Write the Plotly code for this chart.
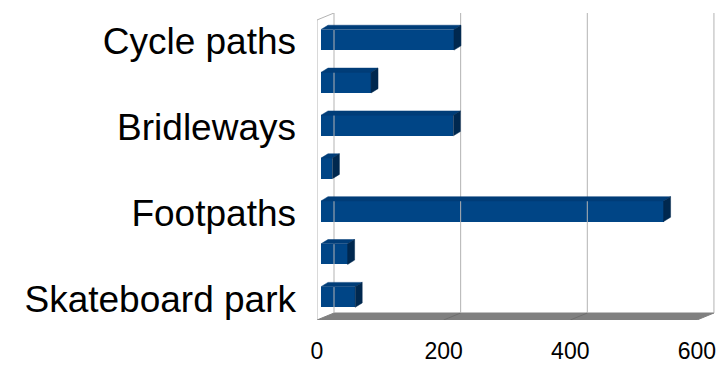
import plotly.graph_objects as go

# ---- data ----
categories = ["Skateboard park", "", "Footpaths", "", "Bridleways", "", "Cycle paths"]
values = [54, 42, 541, 18, 209, 79, 210]
x_ticks = [0, 200, 400, 600]

# ---- geometry / style ----
W, H = 716, 365
ML, MR, MT, MB = 317, 1, 13, 45
X_MAX = 628.5
Y_MIN, Y_MAX = -0.5, 6.663
pw, ph = W - ML - MR, H - MT - MB
ux = X_MAX / pw                     # data units per pixel (x)
uy = (Y_MAX - Y_MIN) / ph           # data units per pixel (y)

DX, DY = 17 * ux, 7 * uy            # chart depth
OX, OY = 4 * ux, 1.6 * uy           # bar front-face offset into depth
BDX, BDY = 7 * ux, 4.3 * uy         # bar depth
HALF = 0.24                          # half bar thickness

FRONT = "#004586"
TOP = "#003d78"
SIDE = "#00284f"
GRID = "#b3b3b3"
FLOOR = "#808080"

fig = go.Figure()

# floor
fig.add_trace(go.Scatter(
    x=[0, x_ticks[-1], x_ticks[-1] + DX, DX, 0],
    y=[Y_MIN, Y_MIN, Y_MIN + DY, Y_MIN + DY, Y_MIN],
    fill="toself", fillcolor=FLOOR, mode="lines",
    line=dict(color=FLOOR, width=1), hoverinfo="skip", showlegend=False))
# floor separators
for t in x_ticks[1:-1]:
    fig.add_trace(go.Scatter(x=[t, t + DX], y=[Y_MIN, Y_MIN + DY], mode="lines",
                             line=dict(color="#6e6e6e", width=1),
                             hoverinfo="skip", showlegend=False))

# left wall outline
fig.add_trace(go.Scatter(
    x=[0, 0, DX], y=[Y_MIN, 6.5, 6.5 + DY], mode="lines",
    line=dict(color=GRID, width=1), hoverinfo="skip", showlegend=False))

# back wall grid lines
for t in x_ticks:
    fig.add_trace(go.Scatter(x=[t + DX, t + DX], y=[Y_MIN + DY, 6.5 + DY], mode="lines",
                             line=dict(color=GRID, width=1),
                             hoverinfo="skip", showlegend=False))

# bar depth faces
for i, v in enumerate(values):
    yc = i + OY
    # top face
    fig.add_trace(go.Scatter(
        x=[OX, v + OX, v + OX + BDX, OX + BDX, OX],
        y=[yc + HALF, yc + HALF, yc + HALF + BDY, yc + HALF + BDY, yc + HALF],
        fill="toself", fillcolor=TOP, mode="lines", line=dict(color=TOP, width=0.5),
        hoverinfo="skip", showlegend=False))
    # side face
    fig.add_trace(go.Scatter(
        x=[v + OX, v + OX + BDX, v + OX + BDX, v + OX, v + OX],
        y=[yc - HALF, yc - HALF + BDY, yc + HALF + BDY, yc + HALF, yc - HALF],
        fill="toself", fillcolor=SIDE, mode="lines", line=dict(color=SIDE, width=0.5),
        hoverinfo="skip", showlegend=False))

# bar front faces
fig.add_trace(go.Bar(
    x=values, y=[i + OY for i in range(len(values))], base=OX,
    orientation="h", width=2 * HALF,
    marker=dict(color=FRONT, line=dict(width=0)), showlegend=False))

tickvals = [i for i, c in enumerate(categories) if c]
ticktext = [c for c in categories if c]

fig.update_layout(
    template="none",
    width=W, height=H,
    margin=dict(l=ML, r=MR, t=MT, b=MB, autoexpand=False),
    paper_bgcolor="white", plot_bgcolor="white",
    font=dict(family="Liberation Sans, Arial, sans-serif", color="black"),
    xaxis=dict(range=[0, X_MAX], tickvals=x_ticks, showgrid=False, zeroline=False,
               showline=False, ticks="", tickfont=dict(size=23),
               ticklabelstandoff=15, ticklabeloverflow="allow",
               automargin=False, fixedrange=True),
    yaxis=dict(range=[Y_MIN, Y_MAX], tickvals=tickvals, ticktext=ticktext,
               showgrid=False, zeroline=False, showline=False, ticks="",
               tickfont=dict(size=37), ticklabelstandoff=20,
               ticklabeloverflow="allow", automargin=False, fixedrange=True),
    bargap=0,
)

fig.write_html("out.html")
